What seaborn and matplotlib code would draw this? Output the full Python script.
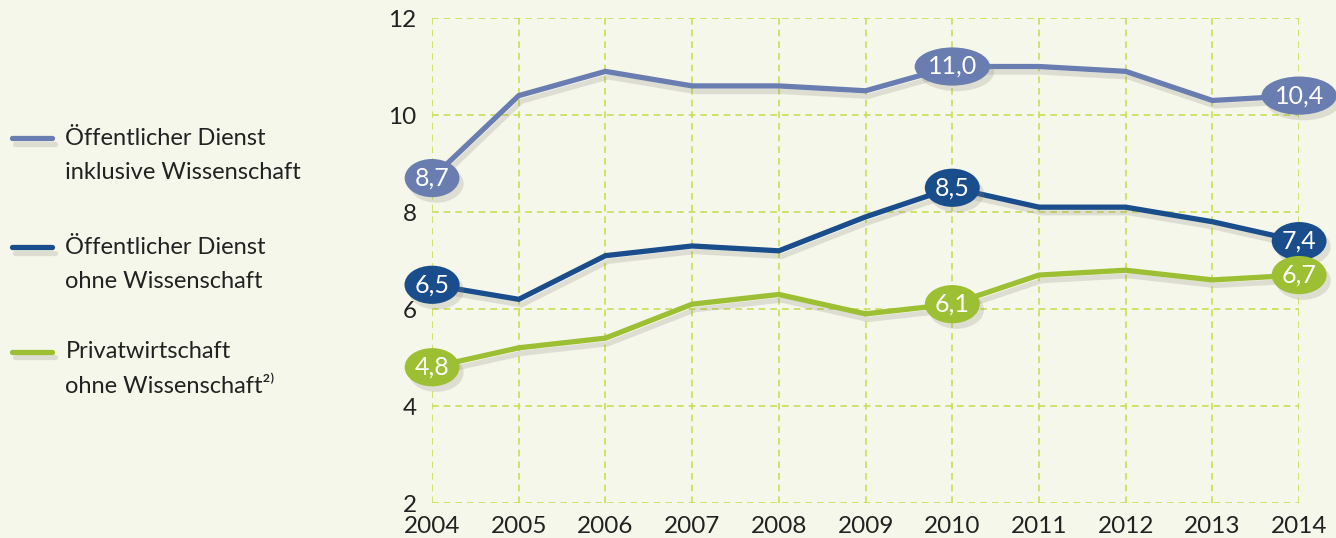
import matplotlib
matplotlib.use("Agg")
import matplotlib.pyplot as plt
import matplotlib.patheffects as pe
from matplotlib.lines import Line2D
import seaborn as sns
import pandas as pd

years = [2004, 2005, 2006, 2007, 2008, 2009, 2010, 2011, 2012, 2013, 2014]
oed_inkl = [8.7, 10.4, 10.9, 10.6, 10.6, 10.5, 11.0, 11.0, 10.9, 10.3, 10.4]
oed_ohne = [6.5, 6.2, 7.1, 7.3, 7.2, 7.9, 8.5, 8.1, 8.1, 7.8, 7.4]
privat = [4.8, 5.2, 5.4, 6.1, 6.3, 5.9, 6.1, 6.7, 6.8, 6.6, 6.7]
series_names = ["Öffentlicher Dienst\ninklusive Wissenschaft",
                "Öffentlicher Dienst\nohne Wissenschaft",
                "Privatwirtschaft\nohne Wissenschaft²⁾"]
label_years = [2004, 2010, 2014]
y_ticks = [2, 4, 6, 8, 10, 12]

colors = ["#6A7DB1", "#194D8B", "#9CBF33"]
bg = "#F6F7EB"
grid_c = "#C9DD55"

sns.set_theme(style="white")
plt.rcParams["font.family"] = ["Lato", "DejaVu Sans"]

df = pd.concat([
    pd.DataFrame({"Jahr": years, "Wert": vals, "Reihe": name})
    for name, vals in zip(series_names, [oed_inkl, oed_ohne, privat])
])

fig = plt.figure(figsize=(13.36, 5.38), dpi=100, facecolor=bg)
ax = fig.add_axes([0.3234, 0.065, 0.649, 0.9015])
ax.set_facecolor(bg)

sns.lineplot(data=df, x="Jahr", y="Wert", hue="Reihe", palette=colors,
             linewidth=3.8, ax=ax, legend=False)
shadow = [pe.SimpleLineShadow(offset=(2, -4), shadow_color="#888877", alpha=0.22),
          pe.Normal()]
for ln in ax.get_lines():
    ln.set_path_effects(shadow)
    ln.set_solid_joinstyle("miter")

ax.set_xlim(2004, 2014)
ax.set_ylim(2, 12)
ax.set_xticks(years)
ax.set_yticks(y_ticks)
ax.set_xticklabels([str(y) for y in years])
ax.set_yticklabels([str(t) for t in y_ticks])
ax.grid(True, color=grid_c, linestyle=(0, (4, 3)), linewidth=1.2)
ax.set_axisbelow(True)
for s in ax.spines.values():
    s.set_visible(False)
ax.tick_params(axis="x", length=0, pad=9, labelsize=17.5, colors="#222222")
ax.tick_params(axis="y", length=0, pad=11, labelsize=17.5, colors="#222222")
for lbl in ax.get_yticklabels():
    lbl.set_va("center_baseline")
ax.set_xlabel("")
ax.set_ylabel("")

for vals, c in zip([oed_inkl, oed_ohne, privat], colors):
    for y in label_years:
        v = vals[years.index(y)]
        t = ax.text(y, v, f"{v:.1f}".replace(".", ","), ha="center", va="center",
                    color="white", fontsize=18, zorder=5,
                    bbox=dict(boxstyle="ellipse,pad=0.08", fc=c, ec="none"))
        t.get_bbox_patch().set_path_effects(
            [pe.SimplePatchShadow(offset=(3, -4), shadow_rgbFace="#888877", alpha=0.22),
             pe.Normal()])

# legend
leg_y = [0.743, 0.54, 0.346]
for name, c, ly in zip(series_names, colors, leg_y):
    fig.add_artist(Line2D([0.009, 0.039], [ly, ly], color=c, linewidth=3.8,
                          solid_capstyle="round", path_effects=shadow,
                          transform=fig.transFigure))
    fig.text(0.049, ly + 0.02, name, ha="left", va="top", fontsize=17,
             color="#222222", linespacing=1.8)

fig.savefig("out.png", dpi=100, facecolor=bg)
